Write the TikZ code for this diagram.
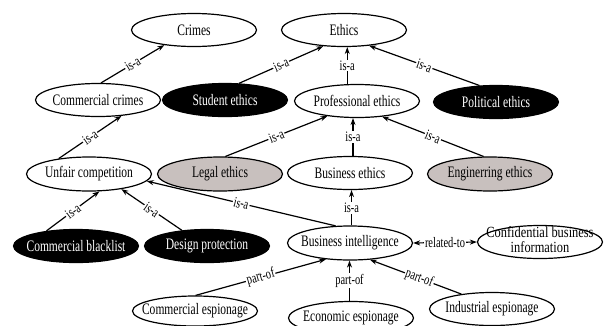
\documentclass[tikz,border=0pt]{standalone}
\usepackage{fontspec}
\setmainfont{Liberation Serif}
\usetikzlibrary{shapes.geometric,arrows.meta}
\definecolor{lgray}{HTML}{C8C0BE}
\newcommand\sq[1]{\scalebox{0.72}[1]{#1}}
\begin{document}
\begin{tikzpicture}[x=1pt,y=-1pt,
  el/.style={ellipse, draw, line width=1.2pt, minimum width=125pt, minimum height=33pt, inner sep=0pt},
  blk/.style={el, fill=black},
  gry/.style={el, fill=lgray},
  nf/.style={font=\fontsize{16}{18}\selectfont, inner sep=0pt},
  wnf/.style={nf, text=white},
  lab/.style={font=\fontsize{14.5}{16}\selectfont, fill=white, inner sep=1pt},
  conn/.style={line width=1.2pt, -{Stealth[length=7pt,width=5pt]}},
  both/.style={line width=1.2pt, {Stealth[length=7pt,width=5pt]}-{Stealth[length=7pt,width=5pt]}}
]
\useasboundingbox[fill=white] (0,0) rectangle (605,325);

\node[el, label={[nf]center:\sq{Crimes}}] (crimes) at (194,30) {};
\node[el, label={[nf]center:\sq{Ethics}}] (ethics) at (344,30) {};
\node[el, label={[nf]center:\sq{Commercial crimes}}] (ccrimes) at (98,100) {};
\node[blk, label={[wnf]center:\sq{Student ethics}}] (student) at (225,100) {};
\node[el, label={[nf]center:\sq{Professional ethics}}] (prof) at (357,101) {};
\node[blk, label={[wnf]center:\sq{Political ethics}}] (political) at (496,102) {};
\node[el, minimum height=34pt, label={[nf]center:\sq{Unfair competition}}] (unfair) at (89,174) {};
\node[gry, minimum height=34pt, label={[nf]center:\sq{Legal ethics}}] (legal) at (220,174) {};
\node[el, label={[nf]center:\sq{Business ethics}}] (bethics) at (350,173) {};
\node[gry, minimum height=34pt, label={[nf]center:\sq{Enginerring ethics}}] (eng) at (490,174) {};
\node[blk, label={[wnf]center:\sq{Commercial blacklist}}] (blacklist) at (76,246) {};
\node[blk, label={[wnf]center:\sq{Design protection}}] (design) at (207,246) {};
\node[el, minimum height=34pt, label={[nf]center:\sq{Business intelligence}}] (bi) at (350,243) {};
\node[el, label={[nf, font=\fontsize{15.5}{14.5}\selectfont]center:\scalebox{0.8}[1]{\begin{tabular}{@{}c@{}}Confidential business\\information\end{tabular}}}] (conf) at (540,242) {};
\node[el, minimum height=30pt, label={[nf]center:\sq{Commercial espionage}}] (cesp) at (195,311) {};
\node[el, label={[nf]center:\sq{Economic espionage}}] (eesp) at (351,318) {};
\node[el, label={[nf]center:\sq{Industrial espionage}}] (iesp) at (492,309) {};

\draw[conn] (ccrimes.80) -- node[lab, sloped] {\sq{is-a}} (crimes.207);
\draw[conn] (student.50) -- node[lab, sloped] {\sq{is-a}} (ethics.218);
\draw[conn] (prof.120) -- node[lab] {\sq{is-a}} (prof.120 |- ethics.south);
\draw[conn] (political.135) -- node[lab, sloped] {\sq{is-a}} (ethics.328);
\draw[conn] (unfair.153) -- node[lab, sloped] {\sq{is-a}} (ccrimes.326);
\draw[conn] (legal.73) -- node[lab, sloped] {\sq{is-a}} (prof.207);
\draw[conn] (bethics.80) -- node[lab] {\sq{is-a}} (bethics.80 |- prof.south);
\draw[conn] (eng.110) -- node[lab, sloped] {\sq{is-a}} (prof.328);
\draw[conn] (blacklist.153) -- node[lab, sloped] {\sq{is-a}} (unfair.301);
\draw[conn] (design.148) -- node[lab, sloped] {\sq{is-a}} (unfair.335);
\draw[conn] (bi.130) -- node[lab, sloped] {\sq{is-a}} (unfair.353);
\draw[conn] (bi.85) -- node[lab] {\sq{is-a}} (bi.85 |- bethics.south);
\draw[both] (bi.east) -- node[lab] {\sq{related-to}} (conf.west);
\draw[conn] (cesp.88) -- node[lab, sloped] {\sq{part-of}} (bi.214);
\draw[conn] (eesp.95) -- node[lab] {\sq{part-of}} (eesp.95 |- bi.south);
\draw[conn] (iesp.154) -- node[lab, sloped, pos=0.46] {\sq{part-of}} (bi.320);
\end{tikzpicture}
\end{document}
